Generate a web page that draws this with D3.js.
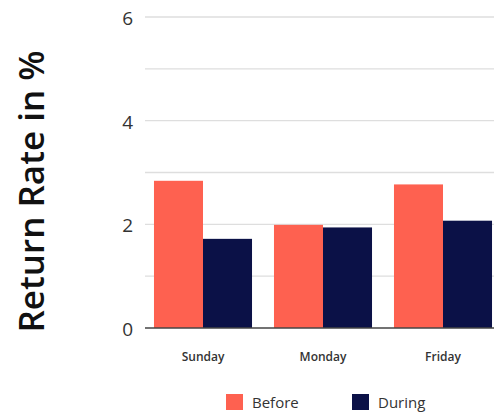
<!DOCTYPE html>
<html><head><meta charset="utf-8">
<script src="https://cdn.jsdelivr.net/npm/d3@7"></script>
<style>body{margin:0;background:#fff;}svg{display:block;font-family:"Open Sans","Noto Sans",sans-serif;}</style>
</head><body>
<svg id="c" width="494" height="416"></svg>
<script>
const categories = ["Sunday", "Monday", "Friday"];
const seriesNames = ["Before", "During"];
const beforeValues = [2.84, 1.99, 2.77];
const duringValues = [1.72, 1.94, 2.07];
const yTicks = [0, 2, 4, 6];
const colors = ["#FE6150", "#0B1147"];

const svg = d3.select("#c");
const y = d3.scaleLinear().domain([0, 6]).range([328, 17]);
const x0 = d3.scaleBand().domain(categories).range([143, 503]).paddingInner(0.183).paddingOuter(0.0915);
const x1 = d3.scaleBand().domain(seriesNames).range([0, x0.bandwidth()]);

// gridlines every 1
svg.append("g").selectAll("line").data(d3.range(1, 7)).join("line")
  .attr("x1", 145).attr("x2", 494)
  .attr("y1", d => y(d)).attr("y2", d => y(d))
  .attr("stroke", "#dedede").attr("stroke-width", 1.3);

// y axis labels
const yAxis = d3.axisLeft(y).tickValues(yTicks).tickFormat(d3.format("d")).tickSize(0).tickPadding(12);
const ya = svg.append("g").attr("transform", "translate(145,0)").call(yAxis);
ya.select(".domain").remove();
ya.selectAll("text").attr("font-size", 19).attr("fill", "#333").attr("dy", "0.4em").attr("font-family", "'Open Sans', sans-serif");

// bars
const data = categories.map((c, i) => ({cat: c, vals: [beforeValues[i], duringValues[i]]}));
const groups = svg.append("g").selectAll("g").data(data).join("g")
  .attr("transform", d => `translate(${x0(d.cat)},0)`);
groups.selectAll("rect").data(d => d.vals.map((v, j) => ({name: seriesNames[j], v, j}))).join("rect")
  .attr("x", d => x1(d.name)).attr("width", x1.bandwidth())
  .attr("y", d => y(d.v)).attr("height", d => y(0) - y(d.v))
  .attr("fill", d => colors[d.j]);

// baseline
svg.append("line").attr("x1", 145).attr("x2", 494).attr("y1", y(0)).attr("y2", y(0))
  .attr("stroke", "#444").attr("stroke-width", 1.5);

// x axis labels
const xAxis = d3.axisBottom(x0).tickSize(0).tickPadding(24);
const xa = svg.append("g").attr("transform", `translate(0,${y(0)})`).call(xAxis);
xa.select(".domain").remove();
xa.selectAll("text").attr("font-size", 12).attr("font-weight", 600).attr("fill", "#333").attr("font-family", "'Open Sans', sans-serif");

// y title
svg.append("text").attr("transform", "translate(43.5,191.5) rotate(-90)")
  .attr("text-anchor", "middle").attr("font-size", 35).attr("font-weight", 600)
  .attr("fill", "#111").text("Return Rate in %");

// legend
const legendX = [226, 352];
const lg = svg.append("g").selectAll("g").data(seriesNames).join("g")
  .attr("transform", (d, i) => `translate(${legendX[i]},394)`);
lg.append("rect").attr("width", 17).attr("height", 16).attr("fill", (d, i) => colors[i]);
lg.append("text").attr("x", 26).attr("y", 14).attr("font-size", 15).attr("fill", "#333").text(d => d);
</script>
</body></html>
